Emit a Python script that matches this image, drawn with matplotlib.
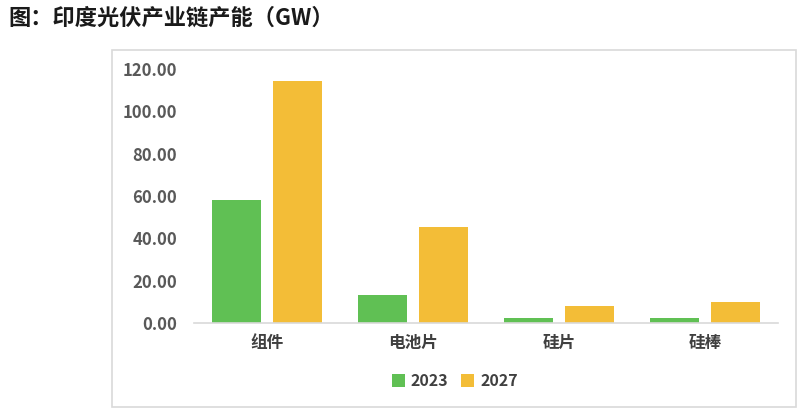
import matplotlib.pyplot as plt
import matplotlib.patches as patches
import numpy as np

plt.rcParams['font.family'] = ['Noto Sans CJK SC', 'DejaVu Sans']

categories = ['组件', '电池片', '硅片', '硅棒']
years = ['2023', '2027']
cap_2023 = [58.1, 13.2, 2.2, 2.2]
cap_2027 = [114.3, 45.3, 7.9, 9.8]
yticks = [0, 20, 40, 60, 80, 100, 120]

W, H = 804, 417
fig = plt.figure(figsize=(W / 100, H / 100), dpi=100)

# outer frame around the chart
fig.patches.append(patches.Rectangle((112 / W, 1 - 407 / H), (796 - 112) / W, (407 - 50) / H,
                                     transform=fig.transFigure, fill=False,
                                     edgecolor='#d9d9d9', linewidth=1.2))

ax = fig.add_axes([194 / W, 1 - 323 / H, (778 - 194) / W, (323 - 69) / H])

x = np.arange(len(categories))
off = 0.209
bw = 0.33
b1 = ax.bar(x - off, cap_2023, bw, color='#60c054', label=years[0])
b2 = ax.bar(x + off, cap_2027, bw, color='#f3bd37', label=years[1])

ax.set_xlim(-0.5, len(categories) - 0.5)
ax.set_ylim(0, 120)
ax.set_yticks(yticks)
ax.set_yticklabels([f'{v:.2f}' for v in yticks], fontsize=12, fontweight='bold', color='#595959')
ax.set_xticks(x)
ax.set_xticklabels(categories, fontsize=12, fontweight='bold', color='#404040')
ax.tick_params(axis='both', length=0)
ax.tick_params(axis='y', pad=12)
ax.tick_params(axis='x', pad=8)

for s in ['top', 'right', 'left']:
    ax.spines[s].set_visible(False)
ax.spines['bottom'].set_color('#d9d9d9')
ax.spines['bottom'].set_linewidth(1.2)

fig.legend(handles=[b1, b2], loc='center', bbox_to_anchor=(455 / W, 1 - 381 / H),
           ncol=2, frameon=False, handlelength=0.8, handleheight=0.8,
           handletextpad=0.4, columnspacing=0.8,
           prop={'size': 11.5, 'weight': 'bold'}, labelcolor='#404040')

fig.text(8 / W, 1 - 18 / H, '图：印度光伏产业链产能（GW）', fontsize=16, fontweight='bold',
         color='#1a1a1a', va='center', ha='left')

fig.savefig('out.png', dpi=100, facecolor='white')
